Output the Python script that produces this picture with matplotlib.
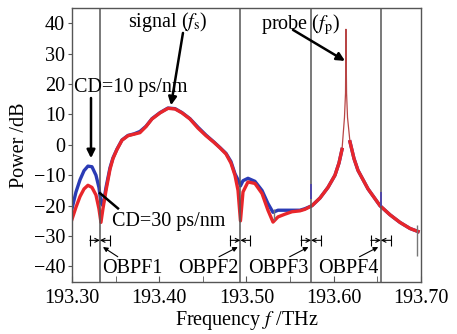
import numpy as np
import matplotlib.pyplot as plt

plt.rcParams['font.family'] = 'Liberation Serif'
plt.rcParams['mathtext.fontset'] = 'stix'
plt.rcParams['font.size'] = 14.5

# spectrum samples (THz, dB)
freq = np.array([193.3000, 193.3046, 193.3092, 193.3138, 193.3183, 193.3229, 193.3275,
                 193.3309, 193.3332, 193.3355, 193.3390, 193.3436, 193.3470, 193.3516,
                 193.3573, 193.3642, 193.3711, 193.3779, 193.3848, 193.3917, 193.4009,
                 193.4100, 193.4181, 193.4261, 193.4352, 193.4444, 193.4536, 193.4628,
                 193.4696, 193.4765, 193.4822, 193.4868, 193.4903, 193.4931, 193.4960,
                 193.5017, 193.5097, 193.5178, 193.5246, 193.5304, 193.5361, 193.5441,
                 193.5521, 193.5613, 193.5670, 193.5751, 193.5842, 193.5934, 193.6014,
                 193.6060, 193.6095, 193.6123, 193.6135, 193.6140, 193.6147, 193.6158,
                 193.6186, 193.6232, 193.6278, 193.6393, 193.6530, 193.6645, 193.6759,
                 193.6874, 193.6966])

cd30 = np.array([-24.5, -20.5, -17.0, -14.5, -13.3, -14.0, -16.5,
                 -21.0, -25.5, -21.0, -15.0, -8.0, -4.5, -1.5,
                 1.5, 3.0, 3.5, 4.0, 6.0, 8.5, 10.5,
                 12.0, 11.8, 10.5, 8.5, 5.5, 3.0, 0.8,
                 -1.0, -3.0, -6.0, -10.0, -15.0, -25.0, -15.5,
                 -12.2, -12.7, -16.0, -21.5, -25.4, -23.7, -22.8,
                 -22.0, -21.7, -21.2, -20.0, -17.5, -14.0, -10.0,
                 -6.0, -1.5, 9.0, 17.0, 38.0, 17.0, 9.0,
                 1.0, -4.5, -8.4, -14.5, -20.0, -23.0, -25.5,
                 -27.5, -28.5])

cd10 = np.array([-21.0, -15.5, -11.5, -8.5, -7.0, -7.2, -10.0,
                 -14.0, -19.0, -20.0, -14.0, -7.5, -4.3, -1.4,
                 1.6, 3.1, 3.6, 4.4, 6.1, 8.6, 10.6,
                 12.1, 11.9, 10.6, 8.6, 5.8, 3.2, 0.9,
                 -0.9, -2.8, -5.5, -9.5, -11.5, -13.5, -11.8,
                 -11.0, -12.0, -15.0, -19.3, -22.2, -21.5, -21.5,
                 -21.5, -21.5, -21.0, -20.0, -17.5, -14.0, -10.0,
                 -6.0, -1.5, 9.0, 17.0, 38.0, 17.0, 9.0,
                 1.0, -4.5, -8.4, -14.5, -20.0, -23.0, -25.5,
                 -27.5, -28.5])

# filter centre frequencies
obpf_f = [193.332, 193.493, 193.574, 193.654]
obpf_names = ['OBPF1', 'OBPF2', 'OBPF3', 'OBPF4']
obpf_half = 0.0115

fig = plt.figure(figsize=(4.57, 3.34), dpi=100)
ax = fig.add_axes([0.1575, 0.1566, 0.7637, 0.8195])

# the narrow probe line is drawn thin, the rest of the trace thick
spike = (freq > 193.60) & (cd30 > 8)
ax.plot(freq, np.where(spike, np.nan, cd10), color='#2b3bb5', lw=2.4,
        solid_joinstyle='round')
ax.plot(freq, cd30, color='#b84545', lw=0.9)
ax.plot(freq, np.where(spike, np.nan, cd30), color='#e8262b', lw=2.4,
        solid_joinstyle='round')

for f in obpf_f:
    ax.axvline(f, color='#555555', lw=1.1)

# small marker ticks on the traces
ax.vlines([193.574, 193.654], [-17.8, -20.0], [-13.0, -15.5], color='#4a3fb0', lw=1.2)
ax.vlines([193.5311, 193.6952], [-24.8, -36.5], [-21.0, -26.5], color='#777777', lw=1.0)

# filter bandwidth brackets and labels
for i, f in enumerate(obpf_f):
    yb = -31.4
    ax.annotate('', xy=(f, yb), xytext=(f - obpf_half, yb),
                arrowprops=dict(arrowstyle='->', lw=0.8, color='black',
                                shrinkA=0, shrinkB=0, mutation_scale=7))
    ax.annotate('', xy=(f, yb), xytext=(f + obpf_half, yb),
                arrowprops=dict(arrowstyle='->', lw=0.8, color='black',
                                shrinkA=0, shrinkB=0, mutation_scale=7))
    ax.vlines([f - obpf_half, f + obpf_half], yb - 1.8, yb + 1.8, color='black', lw=0.8)
    if i == 0:
        ax.text(f + 0.0022, -40.6, obpf_names[i], ha='left', va='center')
        ax.annotate('', xy=(f + 0.0035, -33.6), xytext=(f + 0.0205, -36.8),
                    arrowprops=dict(arrowstyle='-|>', lw=0.8, color='black',
                                    shrinkA=0, shrinkB=0, mutation_scale=7))
    else:
        ax.text(f - 0.0025, -40.6, obpf_names[i], ha='right', va='center')
        ax.annotate('', xy=(f - 0.0030, -33.6), xytext=(f - 0.0245, -36.8),
                    arrowprops=dict(arrowstyle='-|>', lw=0.8, color='black',
                                    shrinkA=0, shrinkB=0, mutation_scale=7))

# annotations
ax.text(193.4103, 40.4, r'signal ($f_\mathrm{s}$)', ha='center', va='center')
ax.annotate('', xy=(193.4135, 13.0), xytext=(193.4272, 36.8),
            arrowprops=dict(arrowstyle='-|>', lw=1.8, color='black',
                            shrinkA=0, shrinkB=0, mutation_scale=12))
ax.text(193.5613, 39.4, r'probe ($f_\mathrm{p}$)', ha='center', va='center')
ax.annotate('', xy=(193.6129, 27.6), xytext=(193.5533, 37.8),
            arrowprops=dict(arrowstyle='-|>', lw=1.8, color='black',
                            shrinkA=0, shrinkB=0, mutation_scale=12))
ax.text(193.367, 19.0, 'CD=10 ps/nm', ha='center', va='center')
ax.annotate('', xy=(193.3218, -4.4), xytext=(193.3218, 15.4),
            arrowprops=dict(arrowstyle='-|>', lw=1.8, color='black',
                            shrinkA=0, shrinkB=0, mutation_scale=12))
ax.text(193.4106, -25.2, 'CD=30 ps/nm', ha='center', va='center')
ax.plot([193.3527, 193.3321], [-20.9, -15.9], color='black', lw=1.8)

ax.set_xlim(193.30, 193.70)
ax.set_ylim(-45, 45)
ax.set_xticks([193.30, 193.40, 193.50, 193.60, 193.70])
ax.set_xticklabels(['193.30', '193.40', '193.50', '193.60', '193.70'])
ax.set_xticks([193.35, 193.45, 193.55, 193.65], minor=True)
ax.set_yticks([-40, -30, -20, -10, 0, 10, 20, 30, 40])
ax.set_yticklabels(['\u221240', '\u221230', '\u221220', '\u221210', '0', '10', '20', '30', '40'])
ax.tick_params(axis='x', which='both', direction='in', length=4, color='#555555', pad=5)
ax.tick_params(axis='y', direction='out', length=3, color='#555555', pad=2)
for s in ax.spines.values():
    s.set_color('#555555')
    s.set_linewidth(1.0)

ax.set_xlabel(r'Frequency $f$ /THz', labelpad=1)
ax.set_ylabel('Power /dB', labelpad=3)

fig.savefig('out.png', dpi=100)
